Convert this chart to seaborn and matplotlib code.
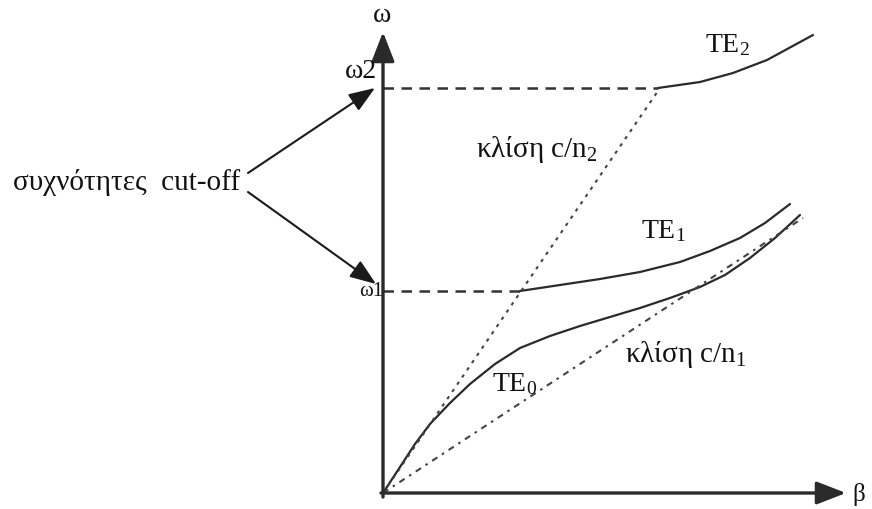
import matplotlib
matplotlib.use("Agg")
import matplotlib.pyplot as plt
import seaborn as sns
import pandas as pd

# Dispersion diagram of a planar dielectric waveguide: omega versus beta
# TE mode branches (beta, omega) in arbitrary units
te0_beta = [0.00, 0.17, 0.32, 0.47, 0.67, 0.87, 1.12, 1.37, 1.67, 1.97, 2.27, 2.57,
            2.87, 3.17, 3.42, 3.67, 3.92, 4.17]
te0_omega = [0.00, 0.26, 0.49, 0.69, 0.90, 1.09, 1.29, 1.45, 1.57, 1.67, 1.76, 1.85,
             1.95, 2.06, 2.18, 2.35, 2.55, 2.78]

te1_beta = [1.37, 1.77, 2.17, 2.57, 2.97, 3.27, 3.57, 3.82, 4.07]
te1_omega = [2.02, 2.08, 2.14, 2.21, 2.31, 2.42, 2.55, 2.70, 2.89]

te2_beta = [2.75, 3.17, 3.50, 3.84, 4.30]
te2_omega = [4.05, 4.11, 4.20, 4.33, 4.58]

# Light lines with slope c/n1 (core) and c/n2 (cladding)
light_n1_beta = [0.00, 4.20]
light_n1_omega = [0.00, 2.75]
light_n2_beta = [0.00, 2.77]
light_n2_omega = [0.00, 4.05]

# Cut-off frequencies of TE1 and TE2
cutoff_omega = [2.02, 4.05]
cutoff_beta = [1.37, 2.75]

mode_labels = ["TE$_{0}$", "TE$_{1}$", "TE$_{2}$"]

sns.set_theme(style="white")
plt.rcParams["font.family"] = ["Liberation Serif", "DejaVu Serif"]
plt.rcParams["mathtext.fontset"] = "custom"
plt.rcParams["mathtext.rm"] = "Liberation Serif"
plt.rcParams["mathtext.it"] = "Liberation Serif"

fig = plt.figure(figsize=(8.72, 5.09), dpi=100)
ax = fig.add_axes([0, 0, 1, 1])
ax.set_xlim(-3.83, 4.89)
ax.set_ylim(-0.16, 4.93)
ax.axis("off")

ink = "#2a2a2a"
curve_kw = dict(color=ink, linewidth=1.6, sort=False, estimator=None, legend=False)

for b, w in [(te0_beta, te0_omega), (te1_beta, te1_omega), (te2_beta, te2_omega)]:
    sns.lineplot(data=pd.DataFrame({"beta": b, "omega": w}), x="beta", y="omega",
                 ax=ax, **curve_kw)

sns.lineplot(data=pd.DataFrame({"beta": light_n2_beta, "omega": light_n2_omega}),
             x="beta", y="omega", ax=ax, color="#444444", linewidth=1.5,
             linestyle=(0, (1.6, 2.6)), sort=False, estimator=None, legend=False)
sns.lineplot(data=pd.DataFrame({"beta": light_n1_beta, "omega": light_n1_omega}),
             x="beta", y="omega", ax=ax, color="#444444", linewidth=1.5,
             linestyle=(0, (3.0, 2.6, 1.2, 2.6)), sort=False, estimator=None, legend=False)

# Horizontal guides at the cut-off frequencies
for w, b in zip(cutoff_omega, cutoff_beta):
    sns.lineplot(data=pd.DataFrame({"beta": [0.0, b], "omega": [w, w]}),
                 x="beta", y="omega", ax=ax, color="#333333", linewidth=1.8,
                 linestyle=(0, (4.2, 3.0)), sort=False, estimator=None, legend=False)

# Axes with arrow heads
axis_arrow = dict(arrowstyle="-|>,head_length=0.9,head_width=0.35", color=ink,
                  linewidth=2.4, shrinkA=0, shrinkB=0, mutation_scale=20)
ax.annotate("", xy=(0, 4.61), xytext=(0, -0.04), arrowprops=axis_arrow)
ax.annotate("", xy=(4.63, 0), xytext=(-0.02, 0), arrowprops=axis_arrow)

# Pointers from the cut-off caption to the frequencies on the omega axis
pointer = dict(arrowstyle="-|>,head_length=0.8,head_width=0.3", color="#1a1a1a",
               linewidth=1.5, shrinkA=0, shrinkB=0, mutation_scale=20)
ax.annotate("", xy=(-0.08, cutoff_omega[1]), xytext=(-1.35, 3.20), arrowprops=pointer)
ax.annotate("", xy=(-0.07, cutoff_omega[0] + 0.07), xytext=(-1.35, 3.01), arrowprops=pointer)

txt = dict(color="#111111", ha="center", va="center", fontsize=20)
ax.text(-2.56, 3.10, "συχνότητες  cut-off", **{**txt, "fontsize": 21})
ax.text(-0.01, 4.77, "ω", **txt)
ax.text(-0.22, 4.21, "ω2", **txt)
ax.text(-0.12, 2.02, "ω1", **{**txt, "fontsize": 15})
ax.text(4.76, -0.01, "β", **{**txt, "fontsize": 18})
ax.text(3.44, 4.48, mode_labels[2], **txt)
ax.text(2.80, 2.62, mode_labels[1], **txt)
ax.text(1.32, 1.09, mode_labels[0], **txt)
ax.text(1.54, 3.43, "κλίση c/n$_{2}$", **{**txt, "fontsize": 21})
ax.text(3.03, 1.38, "κλίση c/n$_{1}$", **{**txt, "fontsize": 21})

fig.savefig("out.png", dpi=100, facecolor="white")
